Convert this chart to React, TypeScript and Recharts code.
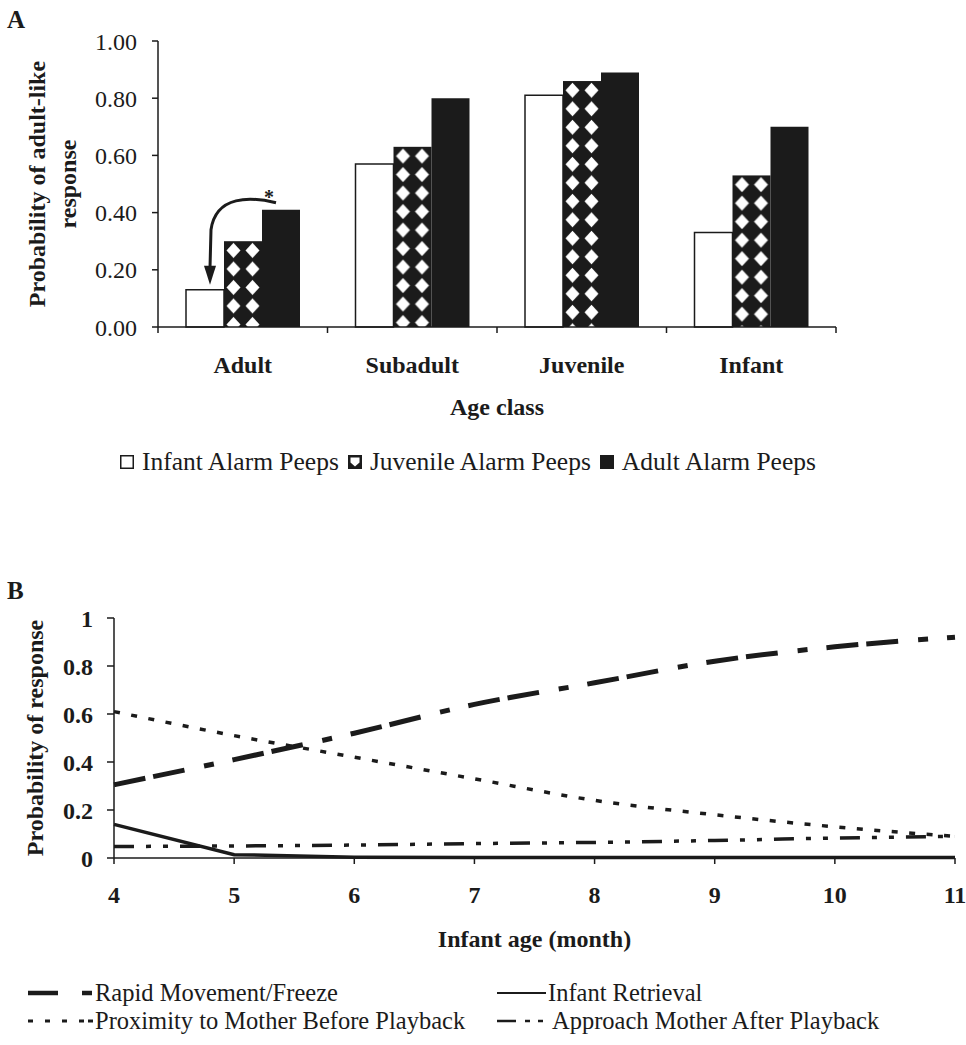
import React from "react";
import { Bar, BarChart, LabelList, Line, LineChart, XAxis, YAxis, Label } from "recharts";

// Panel A: probability of adult-like response by age class of listener
const ageClasses = ["Adult", "Subadult", "Juvenile", "Infant"];
const infantPeeps = [0.13, 0.57, 0.81, 0.33];
const juvenilePeeps = [0.3, 0.63, 0.86, 0.53];
const adultPeeps = [0.41, 0.8, 0.89, 0.7];
const probTicksA = [0, 0.2, 0.4, 0.6, 0.8, 1];

// Panel B: probability of response by infant age
const months = [4, 5, 6, 7, 8, 9, 10, 11];
const rapidMovement = [0.305, 0.41, 0.52, 0.64, 0.73, 0.82, 0.88, 0.92];
const infantRetrieval = [0.14, 0.014, 0.003, 0.002, 0.002, 0.002, 0.002, 0.002];
const proximityBefore = [0.61, 0.51, 0.42, 0.33, 0.24, 0.18, 0.13, 0.09];
const approachAfter = [0.048, 0.05, 0.054, 0.06, 0.065, 0.073, 0.083, 0.09];
const probTicksB = [0, 0.2, 0.4, 0.6, 0.8, 1];

const ink = "#1b1b1b";
const serif = "'Liberation Serif', 'Times New Roman', serif";

const dataA = ageClasses.map((age, i) => ({
  age,
  infant: infantPeeps[i],
  juvenile: juvenilePeeps[i],
  adult: adultPeeps[i],
}));

const dataB = months.map((month, i) => ({
  month,
  rapid: rapidMovement[i],
  retrieval: infantRetrieval[i],
  proximity: proximityBefore[i],
  approach: approachAfter[i],
}));

// plot box of panel A is 158..836 wide, 4 bands
const PLOT_A_W = 678;
const bandA = PLOT_A_W / ageClasses.length;

function DiamondBar(props: any) {
  const { x, y, width, height, index } = props;
  if (!height || height <= 0) return null;
  const id = `diamonds-${index}`;
  const tw = width / 2;
  const th = 18.5;
  const cx = tw / 2;
  const cy = th / 2;
  return (
    <g>
      <defs>
        <pattern id={id} patternUnits="userSpaceOnUse" x={x} y={y} width={tw} height={th}>
          <rect width={tw} height={th} fill={ink} />
          <polygon
            points={`${cx},${cy - 7.5} ${cx + 7},${cy} ${cx},${cy + 7.5} ${cx - 7},${cy}`}
            fill="#fff"
          />
        </pattern>
      </defs>
      <rect x={x} y={y} width={width} height={height} fill={`url(#${id})`} />
    </g>
  );
}

// curved arrow + asterisk from the adult-peep bar down to the infant-peep bar (Adult group)
function SigArrow(props: any) {
  if (props.index !== 0) return null;
  const vb = props.viewBox ?? props;
  const x = vb.x ?? props.x;
  const y = vb.y ?? props.y;
  const h = vb.height ?? props.height;
  const base = y + h;
  const wt = base - (h * infantPeeps[0]) / adultPeeps[0];
  return (
    <g>
      <path
        d={`M${x + 14},${y - 7} C${x - 11},${y - 13} ${x - 46},${y - 15} ${x - 51},${y + 20} L${x - 52},${wt - 22}`}
        fill="none"
        stroke={ink}
        strokeWidth={3}
      />
      <polygon
        points={`${x - 58},${wt - 24} ${x - 46},${wt - 24} ${x - 52},${wt - 5}`}
        fill={ink}
      />
      <text x={x + 7} y={y - 6} textAnchor="middle" fontFamily={serif} fontWeight="bold" fontSize={20} fill={ink}>
        *
      </text>
    </g>
  );
}

function CategoryTick(props: any) {
  const { x, y, payload } = props;
  const half = bandA / 2;
  const last = payload.value === ageClasses[ageClasses.length - 1];
  return (
    <g>
      <line x1={x - half} x2={x - half} y1={y - 29} y2={y - 23} stroke={ink} strokeWidth={1.5} />
      {last && <line x1={x + half} x2={x + half} y1={y - 29} y2={y - 23} stroke={ink} strokeWidth={1.5} />}
      <text x={x} y={y} dy="0.71em" textAnchor="middle" fontFamily={serif} fontWeight="bold" fontSize={24} fill={ink}>
        {payload.value}
      </text>
    </g>
  );
}

function YTitleA({ viewBox }: any) {
  const cy = viewBox.y + viewBox.height / 2;
  const lines = [
    { x: viewBox.x - 61, t: "Probability of adult-like" },
    { x: viewBox.x - 30, t: "response" },
  ];
  return (
    <g>
      {lines.map((l) => (
        <text
          key={l.t}
          x={l.x}
          y={cy}
          transform={`rotate(-90, ${l.x}, ${cy})`}
          textAnchor="middle"
          dominantBaseline="central"
          fontFamily={serif}
          fontWeight="bold"
          fontSize={24}
          fill={ink}
        >
          {l.t}
        </text>
      ))}
    </g>
  );
}

function XTitle({ viewBox, text, dy }: any) {
  return (
    <text
      x={viewBox.x + viewBox.width / 2}
      y={viewBox.y + dy}
      textAnchor="middle"
      fontFamily={serif}
      fontWeight="bold"
      fontSize={24}
      fill={ink}
    >
      {text}
    </text>
  );
}

function YTitleB({ viewBox }: any) {
  const cy = viewBox.y + viewBox.height / 2;
  const x = viewBox.x - 29;
  return (
    <text
      x={x}
      y={cy}
      transform={`rotate(-90, ${x}, ${cy})`}
      textAnchor="middle"
      dominantBaseline="central"
      fontFamily={serif}
      fontWeight="bold"
      fontSize={24}
      fill={ink}
    >
      Probability of response
    </text>
  );
}

function PanelLetter({ text, top }: { text: string; top: number }) {
  return (
    <div
      style={{
        position: "absolute",
        left: 7,
        top,
        fontFamily: serif,
        fontWeight: "bold",
        fontSize: 25,
        lineHeight: "25px",
        color: ink,
      }}
    >
      {text}
    </div>
  );
}

function LegendA() {
  const item = (swatch: React.ReactNode, label: string, gap: number) => (
    <span style={{ display: "inline-flex", alignItems: "center", marginRight: gap }}>
      <svg width={14} height={14} style={{ marginRight: 8 }}>
        {swatch}
      </svg>
      {label}
    </span>
  );
  return (
    <div
      style={{
        position: "absolute",
        left: 120,
        top: 448,
        height: 28,
        display: "flex",
        alignItems: "center",
        whiteSpace: "nowrap",
        fontFamily: serif,
        fontSize: 25.5,
        color: ink,
      }}
    >
      {item(<rect x={0.75} y={0.75} width={12.5} height={12.5} fill="#fff" stroke={ink} strokeWidth={1.5} />, "Infant Alarm Peeps", 9)}
      {item(
        <g>
          <rect width={14} height={14} fill={ink} />
          <polygon points="2.5,2.5 11.5,2.5 11.5,7.5 7,11.5 2.5,7.5" fill="#fff" />
        </g>,
        "Juvenile Alarm Peeps",
        9
      )}
      {item(<rect width={14} height={14} fill={ink} />, "Adult Alarm Peeps", 0)}
    </div>
  );
}

function LegendRowB({ top, left, symbol, label, textLeft }: any) {
  return (
    <div style={{ position: "absolute", top, left, height: 28, display: "flex", alignItems: "center" }}>
      <svg width={textLeft - left} height={28} style={{ flex: "none" }}>
        {symbol}
      </svg>
      <span style={{ fontFamily: serif, fontSize: 24.5, color: ink, whiteSpace: "nowrap" }}>{label}</span>
    </div>
  );
}

function LegendB() {
  return (
    <>
      <LegendRowB
        top={979}
        left={20}
        textLeft={95}
        label="Rapid Movement/Freeze"
        symbol={
          <g stroke={ink} strokeWidth={4.5}>
            <line x1={8} x2={38} y1={14} y2={14} />
            <line x1={62} x2={72} y1={14} y2={14} />
          </g>
        }
      />
      <LegendRowB
        top={1007}
        left={20}
        textLeft={95}
        label="Proximity to Mother Before Playback"
        symbol={
          <g stroke={ink} strokeWidth={3}>
            <line x1={8} x2={66} y1={14} y2={14} strokeDasharray="5 12" />
            <line x1={68} x2={73} y1={14} y2={14} />
          </g>
        }
      />
      <LegendRowB
        top={979}
        left={495}
        textLeft={548}
        label="Infant Retrieval"
        symbol={<line x1={2} x2={51} y1={14} y2={14} stroke={ink} strokeWidth={2} />}
      />
      <LegendRowB
        top={1007}
        left={495}
        textLeft={552}
        label="Approach Mother After Playback"
        symbol={
          <g stroke={ink} strokeWidth={2.5}>
            <line x1={2} x2={21} y1={14} y2={14} />
            <line x1={30} x2={35} y1={14} y2={14} />
            <line x1={43} x2={48} y1={14} y2={14} />
          </g>
        }
      />
    </>
  );
}

const axisLine = { stroke: ink, strokeWidth: 1.5 };

export default function App() {
  return (
    <div
      style={{
        position: "absolute",
        left: 0,
        top: 0,
        width: 966,
        height: 1045,
        background: "#fff",
        overflow: "hidden",
      }}
    >
      <PanelLetter text="A" top={7} />
      <div style={{ position: "absolute", left: 0, top: 0 }}>
        <BarChart
          width={900}
          height={440}
          data={dataA}
          margin={{ top: 41, right: 64, bottom: 53, left: 98 }}
          barSize={38}
          barGap={0}
        >
          <XAxis
            dataKey="age"
            height={60}
            interval={0}
            axisLine={axisLine}
            tickLine={false}
            tickSize={6}
            tickMargin={23}
            tick={<CategoryTick />}
          >
            <Label content={(p: any) => <XTitle viewBox={p.viewBox} text="Age class" dy={88} />} />
          </XAxis>
          <YAxis
            width={60}
            domain={[0, 1]}
            ticks={probTicksA}
            interval={0}
            tickFormatter={(v: number) => v.toFixed(2)}
            axisLine={axisLine}
            tickLine={{ stroke: ink, strokeWidth: 1.5 }}
            tickSize={6}
            tickMargin={15}
            tick={{ fill: ink, fontSize: 24, fontFamily: serif }}
          >
            <Label content={(p: any) => <YTitleA viewBox={p.viewBox} />} />
          </YAxis>
          <Bar dataKey="infant" fill="#fff" stroke={ink} strokeWidth={1.5} isAnimationActive={false} />
          <Bar dataKey="juvenile" fill={ink} shape={<DiamondBar />} isAnimationActive={false} />
          <Bar dataKey="adult" fill={ink} isAnimationActive={false}>
            <LabelList dataKey="adult" content={(p: any) => <SigArrow {...p} />} />
          </Bar>
        </BarChart>
      </div>
      <LegendA />

      <PanelLetter text="B" top={578} />
      <div style={{ position: "absolute", left: 0, top: 560 }}>
        <LineChart
          width={966}
          height={460}
          data={dataB}
          margin={{ top: 58, right: 11, bottom: 112, left: 64 }}
        >
          <XAxis
            dataKey="month"
            type="number"
            domain={[4, 11]}
            ticks={months}
            interval={0}
            height={50}
            axisLine={axisLine}
            tickLine={{ stroke: ink, strokeWidth: 1.5 }}
            tickSize={6}
            tickMargin={22}
            tick={{ fill: ink, fontSize: 24, fontFamily: serif, fontWeight: "bold" }}
          >
            <Label content={(p: any) => <XTitle viewBox={p.viewBox} text="Infant age (month)" dy={89} />} />
          </XAxis>
          <YAxis
            width={50}
            domain={[0, 1]}
            ticks={probTicksB}
            interval={0}
            axisLine={axisLine}
            tickLine={{ stroke: ink, strokeWidth: 1.5 }}
            tickSize={7}
            tickMargin={14}
            tick={{ fill: ink, fontSize: 24, fontFamily: serif, fontWeight: "bold" }}
          >
            <Label content={(p: any) => <YTitleB viewBox={p.viewBox} />} />
          </YAxis>
          <Line
            type="monotone"
            dataKey="approach"
            stroke={ink}
            strokeWidth={3.5}
            strokeDasharray="20 12 5 12 5 12"
            dot={false}
            activeDot={false}
            isAnimationActive={false}
          />
          <Line
            type="monotone"
            dataKey="proximity"
            stroke={ink}
            strokeWidth={3.5}
            strokeDasharray="6 11.5"
            dot={false}
            activeDot={false}
            isAnimationActive={false}
          />
          <Line
            type="linear"
            dataKey="retrieval"
            stroke={ink}
            strokeWidth={3.5}
            dot={false}
            activeDot={false}
            isAnimationActive={false}
          />
          <Line
            type="monotone"
            dataKey="rapid"
            stroke={ink}
            strokeWidth={5}
            strokeDasharray="32 8 32 20 10 19"
            dot={false}
            activeDot={false}
            isAnimationActive={false}
          />
        </LineChart>
      </div>
      <LegendB />
    </div>
  );
}
